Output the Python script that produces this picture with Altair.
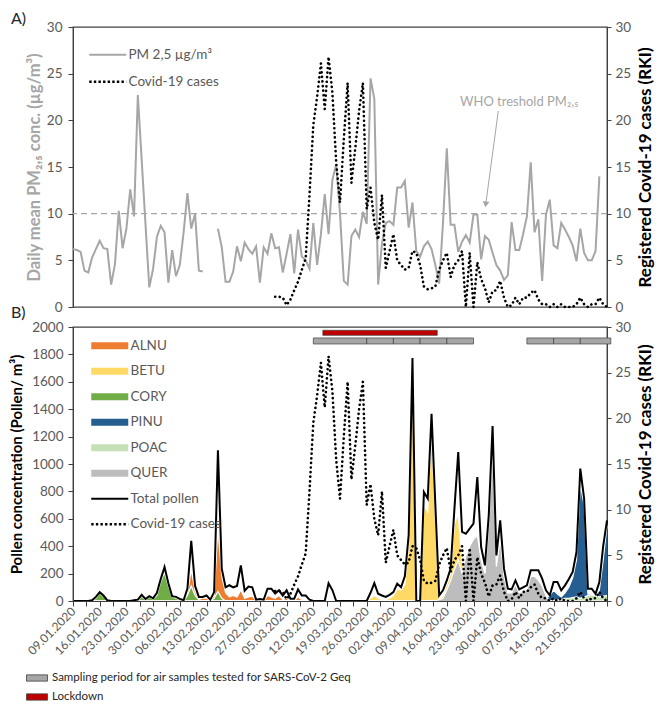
import json
import pandas as pd
import altair as alt

# ---------------- data ----------------
START = "2020-01-09"
N_DAYS = 141

PM25 = [
    6.2, 6.1, 5.9, 3.9, 3.7, 5.3, 6.2, 7.1, 6.3, 6.2,
    2.4, 4.6, 10.3, 6.3, 8.4, 12.6, 9.7, 22.7, 15.8, 8.9,
    2.1, 4.1, 7.5, 8.7, 8.0, 2.6, 6.1, 3.3, 4.5, 8.0,
    12.2, 8.4, 10.0, 3.9, 3.8, None, None, None, 8.4, 6.4,
    2.7, 2.7, 3.8, 6.5, 4.9, 6.9, 6.2, 5.7, 6.5, 2.6,
    6.4, 5.7, 7.9, 6.3, 6.4, 3.7, 5.7, 7.8, 3.6, 8.3,
    5.4, 5.0, 4.1, 9.0, 4.5, 7.8, 12.1, 7.8, 13.6, 15.3,
    10.0, 2.8, 2.4, 7.6, 8.3, 7.5, 10.2, 8.9, 24.5, 22.3,
    2.4, 6.8, 9.0, 9.2, 8.8, 12.8, 12.8, 13.5, 8.5, 11.2,
    6.0, 5.4, 6.5, 7.0, 6.2, 4.5, 2.5, 9.0, 17.0, 8.8,
    8.8, 5.9, 7.0, 7.7, 6.9, 9.9, 9.9, 5.1, 7.6, 7.2,
    5.8, 4.5, 3.9, 2.9, 3.4, 9.1, 6.1, 6.1, 7.8, 9.7,
    15.5, 8.0, 9.4, 2.8, 9.9, 11.5, 6.6, 6.3, 9.0, 8.3,
    7.5, 6.6, 4.9, 8.4, 5.8, 5.0, 5.0, 6.0, 14.0, None,
    None,
]

COVID_START = 53
COVID = [
    1.1, 1.1, 1.0, 0.2, 0.8, 1.8, 2.7,
    4.0, 5.2, 12.0, 19.5, 22.5, 26.1, 21.2, 26.8, 23.0, 15.5,
    11.2, 18.0, 24.0, 13.3, 17.0, 21.0, 24.0, 10.5, 12.8, 9.0,
    7.2, 12.0, 4.2, 6.0, 7.8, 5.0, 4.5, 4.0, 4.2, 6.0,
    5.8, 4.5, 2.2, 1.9, 2.0, 2.2, 4.0, 5.0, 5.8, 3.2,
    4.5, 5.0, 6.0, 0.0, 5.8, 0.0, 4.8, 3.0, 2.0, 0.5,
    1.7, 1.8, 2.8, 1.0, 0.0, 0.2, 1.0, 0.3, 1.0, 1.0,
    1.5, 1.8, 0.8, 0.3, 0.3, 0.0, 0.3, 0.0, 0.3, 0.0,
    0.0, 0.0, 0.3, 1.0, 0.3, 0.0, 0.3, 0.3, 1.0, 0.3, 0.0,
]

TOTAL = [
    0, 0, 0, 0, 0, 5, 30, 65, 40, 5,
    0, 0, 0, 0, 0, 0, 5, 10, 45, 15,
    35, 20, 60, 160, 248, 130, 35, 30, 15, 5,
    90, 440, 110, 30, 30, 40, 10, 65, 1100, 236,
    100, 115, 100, 110, 260, 75, 105, 100, 10, 15,
    10, 90, 90, 55, 78, 40, 78, 17, 17, 85,
    40, 40, 10, 0, 0, 0, 0, 130, 80, 0,
    0, 0, 0, 0, 0, 0, 0, 0, 60, 130,
    53, 40, 30, 45, 65, 127, 100, 180, 480, 1774,
    0, 0, 795, 747, 1367, 700, 41, 78, 150, 236,
    674, 1088, 504, 491, 528, 565, 905, 394, 260, 625,
    1277, 333, 589, 236, 90, 85, 150, 85, 100, 114,
    224, 224, 224, 163, 78, 41, 139, 139, 78, 114,
    160, 212, 358, 966, 747, 90, 90, 53, 139, 400, 589,
]

ALNU_START = 29
ALNU = [0, 50, 230, 70, 15, 20, 20, 5, 40, 530, 180, 60, 30, 40, 30, 80,
        20, 30, 35, 5, 5, 0, 40, 30, 20, 40, 10, 20, 0, 0, 30, 10]
BETU_START = 77
BETU = [0, 20, 40, 20, 10, 10, 20, 40, 90, 80, 120, 400, 1650, 0, 0, 700,
        650, 1250, 600, 20, 40, 120, 200, 560, 640, 280, 250, 150, 100, 80,
        50, 30, 40, 30, 10, 0]
CORY_START = 5
CORY = [0, 20, 60, 35, 5, 0, 0, 0, 0, 0, 0, 0, 0, 35, 10, 30, 15, 40, 140,
        210, 110, 30, 20, 10, 0, 40, 110, 40, 10, 0, 0, 0, 20, 70, 20]
PINU_START = 123
PINU = [0, 20, 40, 80, 50, 30, 60, 100, 170, 300, 850, 700, 50, 50, 30, 80,
        300, 550]
POAC_START = 125
POAC = [0, 5, 10, 10, 20, 20, 25, 30, 20, 30, 40, 45, 40, 30, 35, 40]
QUER_START = 95
QUER = [0, 10, 20, 80, 150, 230, 300, 200, 330, 400, 450, 480, 300, 200,
        550, 1100, 250, 450, 180, 60, 60, 120, 60, 70, 80, 180, 180, 150,
        110, 40, 0]

TAXA = ["ALNU", "BETU", "CORY", "PINU", "POAC", "QUER"]
TAXA_COLORS = ["#ED7D31", "#FFD966", "#70AD47", "#255E91", "#C5E0B4", "#BDBDBD"]
TAXA_SERIES = {
    "ALNU": (ALNU_START, ALNU), "BETU": (BETU_START, BETU),
    "CORY": (CORY_START, CORY), "PINU": (PINU_START, PINU),
    "POAC": (POAC_START, POAC), "QUER": (QUER_START, QUER),
}

SAMPLING_LABEL = "Sampling period for air samples tested for SARS-CoV-2 Geq"
LOCKDOWN_LABEL = "Lockdown"
SAMPLING_PERIODS = [
    ("2020-03-12", "2020-03-26"), ("2020-03-26", "2020-04-02"),
    ("2020-04-02", "2020-04-09"), ("2020-04-09", "2020-04-16"),
    ("2020-04-16", "2020-04-23"), ("2020-05-07", "2020-05-14"),
    ("2020-05-14", "2020-05-21"), ("2020-05-21", "2020-05-29"),
]
LOCKDOWN_PERIOD = [("2020-03-14T12:00:00Z", "2020-04-13T12:00:00Z")]
SAMPLING_BAND = (1876, 1920)   # pollen-axis levels of the strip
LOCKDOWN_BAND = (1939, 1976)

PM_LABEL = "PM 2,5 µg/m³"
COVID_LABEL = "Covid-19 cases"
TOTAL_LABEL = "Total pollen"
WHO_LIMIT = 10
WHO_TEXT = "WHO treshold PM₂,₅"
WHO_TEXT_AT = ("2020-05-05", 22.0)
WHO_ARROW = ("2020-04-29T12:00:00Z", 21.0, "2020-04-26T05:00:00Z", 11.0)
LAST_LABEL_DATE = "2020-05-21"

# ---------------- helpers ----------------
DAY_MS = 86400000
date_str = pd.date_range(START, periods=N_DAYS, freq="D").strftime("%Y-%m-%d").tolist()
t0 = int(pd.Timestamp(START).value // 10**6)
t_last = int(pd.Timestamp(LAST_LABEL_DATE).value // 10**6)
X_DOMAIN = [t0, t0 + (N_DAYS - 1) * DAY_MS]
TICKS = [t0 + int(k * 3.5 * DAY_MS) for k in range(41)]


def pad(start, vals):
    return [0] * start + vals + [0] * (N_DAYS - start - len(vals))


pm_rows, seg = [], 0
for d, v in zip(date_str, PM25):
    if v is None:
        seg += 1
        continue
    pm_rows.append({"date": d, "pm": v, "seg": seg, "series": PM_LABEL})
pm_df = pd.DataFrame(pm_rows)

covid_vals = [None] * COVID_START + COVID
covid_df = pd.DataFrame([{"date": d, "covid": v, "series": COVID_LABEL, "taxon": COVID_LABEL}
                         for d, v in zip(date_str, covid_vals) if v is not None])

total_df = pd.DataFrame({"date": date_str, "pollen": TOTAL, "taxon": TOTAL_LABEL})

bars = [{"date": a, "date2": b, "pollen": SAMPLING_BAND[0], "pollen2": SAMPLING_BAND[1],
         "period": SAMPLING_LABEL} for a, b in SAMPLING_PERIODS]
bars += [{"date": a, "date2": b, "pollen": LOCKDOWN_BAND[0], "pollen2": LOCKDOWN_BAND[1],
          "period": LOCKDOWN_LABEL} for a, b in LOCKDOWN_PERIOD]
bars_df = pd.DataFrame(bars)

FONT = "Lato"
GRAY_TXT = "#595959"
FRAME = "#404040"
DOTS = [0.1, 4.5]          # round-capped dotted line
LEGEND_DOTS = [2.4, 2.2]   # square dots for legend symbols

x_scale = alt.Scale(type="utc", domain=X_DOMAIN)
X_A = alt.X("date:T", scale=x_scale, axis=None, title=None)
X_B = alt.X(
    "date:T", scale=x_scale, title=None,
    axis=alt.Axis(values=TICKS,
                  labelExpr=(f"utchours(datum.value) == 0 && datum.value <= {t_last} ? "
                             "utcFormat(datum.value, '%d.%m.%Y') : ''"),
                  labelAngle=315, labelAlign="right", labelBaseline="middle",
                  labelFontSize=12, labelPadding=3, tickSize=5, labelOverlap=False,
                  labelFlush=False, zindex=1),
)

right_axis = alt.Axis(orient="right", values=list(range(0, 31, 5)), tickSize=4,
                      labelPadding=4, title="Registered Covid-19 cases (RKI)",
                      titleAngle=270, titleBaseline="top", titlePadding=7,
                      titleFontSize=17, titleColor="#000000", minExtent=21)

# ---------------- panel A ----------------
colA = alt.Color(
    "series:N",
    scale=alt.Scale(domain=[PM_LABEL, COVID_LABEL], range=["#A6A6A6", "#000000"]),
    legend=alt.Legend(
        title=None, orient="none", legendX=28, legendY=21,
        symbolType="stroke", symbolSize=1369, rowPadding=12, labelOffset=14, padding=0,
        symbolDash={"expr": f"datum.label == '{COVID_LABEL}' ? {LEGEND_DOTS} : [1, 0]"},
        symbolStrokeWidth={"expr": f"datum.label == '{COVID_LABEL}' ? 2.4 : 2"},
    ))

Y_PM = alt.Y("pm:Q", scale=alt.Scale(domain=[0, 30], nice=False),
             axis=alt.Axis(values=list(range(0, 31, 5)), tickSize=5, labelPadding=6,
                           title="Daily mean PM₂,₅ conc. (µg/m³)", titleColor="#A6A6A6",
                           titleFontSize=16.5, minExtent=28, titlePadding=3))

pm_line = alt.Chart(pm_df).mark_line(strokeWidth=2).encode(
    x=X_A, y=Y_PM, color=colA, detail="seg:N")
who_rule = alt.Chart(pd.DataFrame({"pm": [WHO_LIMIT]})).mark_rule(
    color="#A6A6A6", strokeDash=[6, 4], strokeWidth=1.3).encode(y="pm:Q")
who_text = alt.Chart(pd.DataFrame({"date": [WHO_TEXT_AT[0]], "pm": [WHO_TEXT_AT[1]],
                                   "t": [WHO_TEXT]})).mark_text(
    font=FONT, fontSize=13, color="#A6A6A6", align="center", baseline="middle").encode(
    x=X_A, y="pm:Q", text="t:N")
arrow_df = pd.DataFrame({"date": [WHO_ARROW[0]], "pm": [WHO_ARROW[1]],
                         "date2": [WHO_ARROW[2]], "pm2": [WHO_ARROW[3]]})
who_arrow = alt.Chart(arrow_df).mark_rule(color="#A6A6A6", strokeWidth=1).encode(
    x=X_A, x2="date2:T", y="pm:Q", y2="pm2:Q")
who_head = alt.Chart(arrow_df).mark_point(shape="triangle-down", filled=True, size=45,
                                          color="#A6A6A6", opacity=1, angle=8).encode(
    x=alt.X("date2:T", scale=x_scale, axis=None), y="pm2:Q")

covid_A = alt.Chart(covid_df).mark_line(strokeWidth=2.6, strokeDash=DOTS,
                                         strokeCap="round").encode(
    x=X_A, y=alt.Y("covid:Q", scale=alt.Scale(domain=[0, 30], nice=False), axis=right_axis),
    color=colA)

panelA = alt.layer(
    alt.layer(pm_line, who_rule, who_text, who_arrow, who_head),
    covid_A,
).resolve_scale(y="independent").properties(
    width=534, height=280,
    title=alt.TitleParams("A)", anchor="start", frame="group", dx=-62, offset=-7,
                          fontSize=16, fontWeight="normal", color="#262626", font=FONT))

# ---------------- panel B ----------------
B_NAMES = TAXA + [TOTAL_LABEL, COVID_LABEL]
B_COLORS = TAXA_COLORS + ["#000000", "#000000"]
is_line = f"indexof({json.dumps([TOTAL_LABEL, COVID_LABEL])}, datum.label) >= 0"
col_expr = f"{json.dumps(B_COLORS)}[indexof({json.dumps(B_NAMES)}, datum.label)]"
colB = alt.Color(
    "taxon:N", scale=alt.Scale(domain=B_NAMES, range=B_COLORS),
    legend=alt.Legend(
        title=None, orient="none", legendX=30, legendY=12,
        symbolSize=1369, rowPadding=10.5, labelOffset=14, padding=0,
        symbolType={"expr": f"{is_line} ? 'M-1,0L1,0' : 'M-1,-0.19L1,-0.19L1,0.19L-1,0.19Z'"},
        symbolFillColor={"expr": f"{is_line} ? 'transparent' : {col_expr}"},
        symbolStrokeColor={"expr": f"{is_line} ? {col_expr} : 'transparent'"},
        symbolStrokeWidth={"expr": f"datum.label == '{COVID_LABEL}' ? 2.4 : ({is_line} ? 2.2 : 0)"},
        symbolDash={"expr": f"datum.label == '{COVID_LABEL}' ? {LEGEND_DOTS} : [1, 0]"},
        symbolOpacity=1,
    ))

Y_POL = alt.Y("pollen:Q", scale=alt.Scale(domain=[0, 2000], nice=False), stack=None,
              axis=alt.Axis(values=list(range(0, 2001, 200)), format="d", tickSize=5,
                            labelPadding=5, title="Pollen concentration (Pollen/ m³)",
                            titleColor="#000000", titleFontSize=15,
                            minExtent=44, titlePadding=5, zindex=1))

bars_layer = alt.Chart(bars_df).mark_rect(stroke=FRAME, strokeWidth=0.7).encode(
    x=X_B, x2="date2:T", y=Y_POL, y2="pollen2:Q",
    fill=alt.Fill("period:N",
                  scale=alt.Scale(domain=[SAMPLING_LABEL, LOCKDOWN_LABEL],
                                  range=["#A6A6A6", "#C00000"]),
                  legend=alt.Legend(title=None, orient="none", legendX=-47, legendY=340,
                                    symbolSize=441, rowPadding=2, labelOffset=4,
                                    labelLimit=600, labelFontSize=11.5, labelColor="#262626",
                                    padding=0, symbolType="M-1,-0.3L1,-0.3L1,0.3L-1,0.3Z",
                                    symbolStrokeColor=FRAME, symbolStrokeWidth=0.8,
                                    symbolOpacity=1)))

area_layers = []
for name in TAXA:
    st, vals = TAXA_SERIES[name]
    tdf = pd.DataFrame({"date": date_str, "pollen": pad(st, vals), "taxon": name})
    base = alt.Chart(tdf)
    area_layers.append(base.mark_area(opacity=1, interpolate="linear").encode(
        x=X_B, y=Y_POL, color=colB))
    area_layers.append(base.mark_line(color="white", strokeWidth=1.2).encode(
        x=X_B, y=Y_POL))

total_line = alt.Chart(total_df).mark_line(color="#000000", strokeWidth=2).encode(
    x=X_B, y=Y_POL)

covid_B = alt.Chart(covid_df).mark_line(color="#000000", strokeWidth=2.6,
                                         strokeDash=DOTS, strokeCap="round").encode(
    x=X_B, y=alt.Y("covid:Q", scale=alt.Scale(domain=[0, 30], nice=False), axis=right_axis))

panelB = alt.layer(
    alt.layer(bars_layer, *area_layers, total_line),
    covid_B,
).resolve_scale(y="independent").properties(
    width=534, height=274,
    title=alt.TitleParams("B)", anchor="start", frame="group", dx=-62, offset=-1,
                          fontSize=16, fontWeight="normal", color="#262626", font=FONT))

chart = alt.vconcat(panelA, panelB, spacing=20, bounds="flush").resolve_scale(
    color="independent", fill="independent"
).properties(
    padding={"left": 0, "top": 2, "right": 0, "bottom": 0}
).configure_view(
    stroke=FRAME, strokeWidth=1.3
).configure_axis(
    labelFont=FONT, titleFont=FONT, labelColor=GRAY_TXT, labelFontSize=13.5,
    titleFontSize=15, titleFontWeight="bold", domainColor=FRAME, tickColor=FRAME,
    grid=False,
).configure_legend(
    labelFont=FONT, labelColor=GRAY_TXT, labelFontSize=13.5,
)

chart.save("out.html", embed_options={"renderer": "svg", "actions": False})
